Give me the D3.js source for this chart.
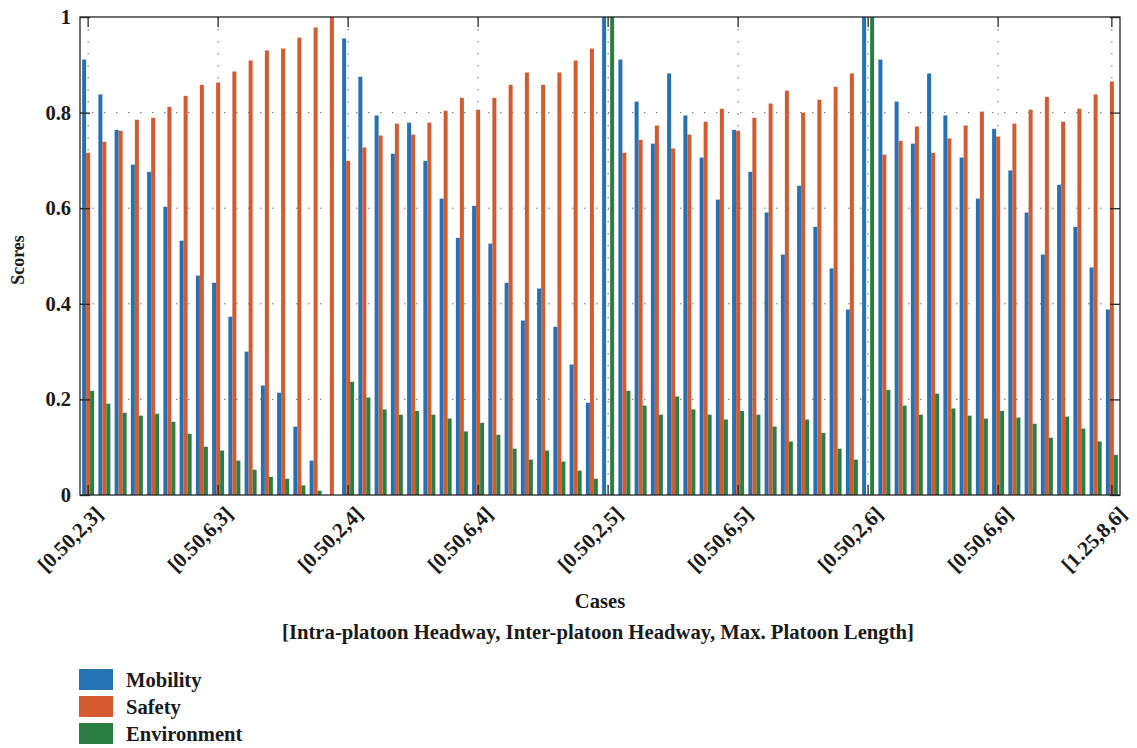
<!DOCTYPE html>
<html>
<head>
<meta charset="utf-8">
<script src="https://cdn.jsdelivr.net/npm/d3@7"></script>
<style>
  html, body { margin: 0; padding: 0; background: #fff; }
  svg text { font-family: "Liberation Serif", "Times New Roman", serif; font-weight: bold; fill: #1a1a1a; }
</style>
</head>
<body>
<svg id="chart" width="1137" height="748"></svg>
<script>
// ---- data ----
const categories = [
  "[0.50,2,3]","[0.75,2,3]","[1.00,2,3]","[1.25,2,3]","[0.50,4,3]","[0.75,4,3]","[1.00,4,3]","[1.25,4,3]",
  "[0.50,6,3]","[0.75,6,3]","[1.00,6,3]","[1.25,6,3]","[0.50,8,3]","[0.75,8,3]","[1.00,8,3]","[1.25,8,3]",
  "[0.50,2,4]","[0.75,2,4]","[1.00,2,4]","[1.25,2,4]","[0.50,4,4]","[0.75,4,4]","[1.00,4,4]","[1.25,4,4]",
  "[0.50,6,4]","[0.75,6,4]","[1.00,6,4]","[1.25,6,4]","[0.50,8,4]","[0.75,8,4]","[1.00,8,4]","[1.25,8,4]",
  "[0.50,2,5]","[0.75,2,5]","[1.00,2,5]","[1.25,2,5]","[0.50,4,5]","[0.75,4,5]","[1.00,4,5]","[1.25,4,5]",
  "[0.50,6,5]","[0.75,6,5]","[1.00,6,5]","[1.25,6,5]","[0.50,8,5]","[0.75,8,5]","[1.00,8,5]","[1.25,8,5]",
  "[0.50,2,6]","[0.75,2,6]","[1.00,2,6]","[1.25,2,6]","[0.50,4,6]","[0.75,4,6]","[1.00,4,6]","[1.25,4,6]",
  "[0.50,6,6]","[0.75,6,6]","[1.00,6,6]","[1.25,6,6]","[0.50,8,6]","[0.75,8,6]","[1.00,8,6]","[1.25,8,6]"
];
const seriesNames = ["Mobility", "Safety", "Environment"];
const mobility = [
  0.911,0.838,0.764,0.691,0.676,0.603,0.532,0.459,
  0.444,0.373,0.300,0.229,0.214,0.143,0.072,0.000,
  0.955,0.875,0.794,0.714,0.779,0.699,0.620,0.538,
  0.605,0.526,0.444,0.365,0.432,0.352,0.273,0.193,
  1.000,0.911,0.823,0.735,0.882,0.794,0.706,0.618,
  0.764,0.676,0.591,0.503,0.647,0.561,0.474,0.388,
  1.000,0.911,0.823,0.735,0.882,0.794,0.706,0.620,
  0.766,0.679,0.591,0.503,0.649,0.561,0.476,0.388
];
const safety = [
  0.716,0.739,0.762,0.785,0.789,0.812,0.835,0.858,
  0.863,0.886,0.909,0.930,0.934,0.957,0.978,1.000,
  0.699,0.727,0.752,0.777,0.754,0.779,0.804,0.831,
  0.806,0.831,0.858,0.884,0.858,0.884,0.909,0.934,
  0.000,0.716,0.743,0.773,0.725,0.754,0.781,0.808,
  0.762,0.789,0.819,0.846,0.800,0.827,0.854,0.882,
  0.000,0.712,0.741,0.771,0.716,0.746,0.773,0.802,
  0.750,0.777,0.806,0.833,0.781,0.808,0.838,0.865
];
const environment = [
  0.218,0.191,0.172,0.166,0.170,0.153,0.128,0.101,
  0.093,0.072,0.053,0.038,0.034,0.020,0.009,0.000,
  0.237,0.204,0.179,0.168,0.176,0.168,0.160,0.133,
  0.151,0.126,0.097,0.074,0.093,0.070,0.051,0.034,
  1.000,0.218,0.187,0.168,0.206,0.179,0.168,0.158,
  0.176,0.168,0.143,0.112,0.158,0.130,0.097,0.074,
  1.000,0.220,0.187,0.168,0.212,0.181,0.166,0.160,
  0.176,0.162,0.149,0.120,0.164,0.139,0.112,0.084
];
const tickIndices = [0, 8, 16, 24, 32, 40, 48, 56, 63];
const tickLabels = ["[0.50,2,3]","[0.50,6,3]","[0.50,2,4]","[0.50,6,4]","[0.50,2,5]","[0.50,6,5]","[0.50,2,6]","[0.50,6,6]","[1.25,8,6]"];
const yTicks = [0, 0.2, 0.4, 0.6, 0.8, 1];
const colors = ["#2670b4", "#d45b2f", "#2a7e42"];

// ---- layout ----
const svg = d3.select("#chart");
const L = 80, R = 1120, T = 17, B = 495;
const axisColor = "#262626";

const x0 = d3.scaleBand().domain(d3.range(categories.length)).range([L, R]).padding(0);
const x1 = d3.scaleBand().domain(seriesNames).range([0, x0.bandwidth()]).paddingInner(0).paddingOuter(0.53);
const y = d3.scaleLinear().domain([0, 1]).range([B, T]);
const color = d3.scaleOrdinal().domain(seriesNames).range(colors);

const rows = categories.map((c, i) => ({ i, c, values: [mobility[i], safety[i], environment[i]] }));

// grid
const grid = svg.append("g");
grid.selectAll(".hg").data([0.2, 0.4, 0.6, 0.8]).join("line")
  .attr("x1", L).attr("x2", R).attr("y1", d => y(d)).attr("y2", d => y(d))
  .attr("stroke", "#555").attr("stroke-width", 1).attr("stroke-dasharray", "1.5,10.5").attr("opacity", 0.8);
grid.selectAll(".vg").data(tickIndices).join("line")
  .attr("x1", d => x0(d) + x0.bandwidth() / 2).attr("x2", d => x0(d) + x0.bandwidth() / 2)
  .attr("y1", T).attr("y2", B)
  .attr("stroke", "#555").attr("stroke-width", 1).attr("stroke-dasharray", "1.5,10.5").attr("opacity", 0.8);

// bars
const groups = svg.append("g").selectAll("g").data(rows).join("g")
  .attr("transform", d => `translate(${x0(d.i)},0)`);
groups.selectAll("rect").data(d => seriesNames.map((s, k) => ({ s, v: d.values[k] }))).join("rect")
  .attr("x", d => x1(d.s)).attr("width", x1.bandwidth())
  .attr("y", d => y(d.v)).attr("height", d => y(0) - y(d.v))
  .attr("fill", d => color(d.s));

// axes (box with inward ticks)
const xTickAxisB = d3.axisBottom(x0).tickValues(tickIndices).tickSize(-10).tickFormat("");
const xTickAxisT = d3.axisTop(x0).tickValues(tickIndices).tickSize(-10).tickFormat("");
const yAxisL = d3.axisLeft(y).tickValues(yTicks).tickSize(-10).tickPadding(9)
  .tickFormat(d => (d === 0 || d === 1) ? d3.format("d")(d) : d3.format(".1f")(d));
const yAxisR = d3.axisRight(y).tickValues(yTicks).tickSize(-10).tickFormat("");

function styleAxis(g) {
  g.selectAll("path.domain").attr("stroke", axisColor).attr("stroke-width", 1.3);
  g.selectAll(".tick line").attr("stroke", axisColor).attr("stroke-width", 1.3);
}
svg.append("g").attr("transform", `translate(0,${B})`).call(xTickAxisB).call(styleAxis);
svg.append("g").attr("transform", `translate(0,${T})`).call(xTickAxisT).call(styleAxis);
const gl = svg.append("g").attr("transform", `translate(${L},0)`).call(yAxisL).call(styleAxis);
gl.selectAll("text").attr("font-size", 20.5).attr("fill", "#1a1a1a")
  .style("font-family", '"Liberation Serif", serif').style("font-weight", "bold");
svg.append("g").attr("transform", `translate(${R},0)`).call(yAxisR).call(styleAxis);
svg.selectAll("path.domain").attr("d", null);
svg.append("rect").attr("x", L).attr("y", T).attr("width", R - L).attr("height", B - T)
  .attr("fill", "none").attr("stroke", axisColor).attr("stroke-width", 1.3);

// x tick labels (rotated)
svg.append("g").selectAll("text").data(tickIndices).join("text")
  .attr("transform", (d, k) => `translate(${x0(d) + x0.bandwidth() / 2 + 11},${B + 15}) rotate(-45)`)
  .attr("text-anchor", "end").attr("dy", "0.35em").attr("font-size", 21)
  .text((d, k) => tickLabels[k]);

// axis titles
svg.append("text").attr("x", 600).attr("y", 608).attr("text-anchor", "middle").attr("font-size", 20.6).text("Cases");
svg.append("text").attr("x", 598).attr("y", 639).attr("text-anchor", "middle").attr("font-size", 20.7)
  .text("[Intra-platoon Headway, Inter-platoon Headway, Max. Platoon Length]");
svg.append("text").attr("transform", `translate(24,${(T + B) / 2 + 4}) rotate(-90)`)
  .attr("text-anchor", "middle").attr("font-size", 18).text("Scores");

// legend
const lg = svg.append("g").selectAll("g").data(seriesNames).join("g")
  .attr("transform", (d, k) => `translate(79,${669 + k * 27})`);
lg.append("rect").attr("width", 34).attr("height", 21).attr("fill", d => color(d));
lg.append("text").attr("x", 47).attr("y", 18).attr("font-size", 20.6).text(d => d);
</script>
</body>
</html>
